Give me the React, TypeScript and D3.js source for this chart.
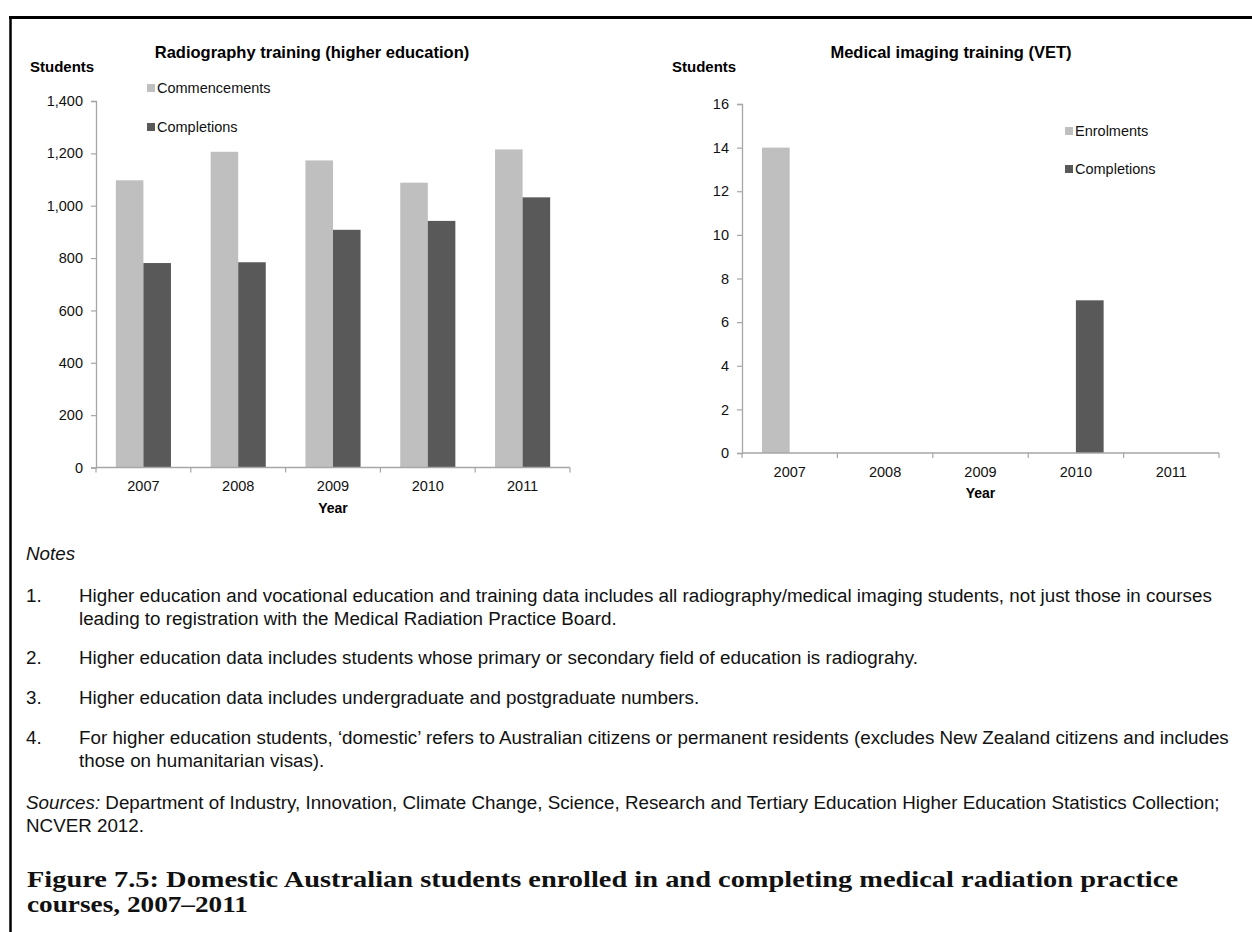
import React, { useEffect, useRef } from 'react';
import * as d3 from 'd3';

const years = ['2007', '2008', '2009', '2010', '2011'];

// Radiography training (higher education)
const heCommencements = [1097, 1206, 1173, 1088, 1215];
const heCompletions = [781, 784, 908, 942, 1032];

// Medical imaging training (VET)
const vetEnrolments = [14, 0, 0, 0, 0];
const vetCompletions = [0, 0, 0, 7, 0];

const LIGHT = '#bfbfbf';
const DARK = '#595959';
const AXIS = '#a6a6a6';
const SANS = 'Arial, "Liberation Sans", sans-serif';
const SERIF = '"Liberation Serif", "Times New Roman", serif';

interface PanelProps {
  title: string;
  titleX: number;
  studentsX: number;
  x0: number;
  x1: number;
  yTop: number;
  yBottom: number;
  yMax: number;
  yStep: number;
  series: { name: string; values: number[]; color: string }[];
  legendX: number;
  legendY: number[];
  tickFmt: (d: number) => string;
  labelY: number;
  yearY: number;
}

const Panel: React.FC<PanelProps> = (p) => {
  const ref = useRef<SVGGElement>(null);

  useEffect(() => {
    const g = d3.select(ref.current);
    g.selectAll('*').remove();

    const x = d3.scaleBand<string>().domain(years).range([p.x0, p.x1]);
    const y = d3.scaleLinear().domain([0, p.yMax]).range([p.yBottom, p.yTop]);
    const inner = d3.scaleBand<string>()
      .domain(p.series.map(s => s.name))
      .range([0, x.bandwidth()])
      .paddingOuter(0.72)
      .paddingInner(0);

    p.series.forEach(s => {
      g.append('g')
        .selectAll('rect')
        .data(s.values)
        .join('rect')
        .attr('x', (_, i) => (x(years[i]) as number) + (inner(s.name) as number))
        .attr('width', inner.bandwidth())
        .attr('y', d => y(d))
        .attr('height', d => y(0) - y(d))
        .attr('fill', s.color);
    });

    // y axis
    const ya = g.append('g')
      .attr('transform', `translate(${p.x0},0)`)
      .call(d3.axisLeft(y).tickValues(d3.range(0, p.yMax + 0.001, p.yStep)).tickSize(5).tickPadding(8).tickFormat(d => p.tickFmt(d as number)));
    ya.select('.domain').attr('stroke', AXIS).attr('stroke-width', 1.3);
    ya.selectAll('.tick line').attr('stroke', AXIS).attr('stroke-width', 1.2);
    ya.selectAll('text').attr('font-family', SANS).attr('font-size', 14.5).attr('fill', '#111');

    // x axis, ticks at band boundaries
    const xa = g.append('g').attr('transform', `translate(0,${p.yBottom})`);
    xa.append('line').attr('x1', p.x0).attr('x2', p.x1).attr('stroke', AXIS).attr('stroke-width', 1.3);
    xa.selectAll('line.tk')
      .data([...years.map(d => x(d) as number), p.x1])
      .join('line')
      .attr('class', 'tk')
      .attr('x1', d => d).attr('x2', d => d)
      .attr('y1', 0).attr('y2', 5)
      .attr('stroke', AXIS)
      .attr('stroke-width', 1.2);
    xa.selectAll('text')
      .data(years)
      .join('text')
      .attr('x', d => (x(d) as number) + x.bandwidth() / 2)
      .attr('y', p.labelY - p.yBottom)
      .attr('dy', '0.35em')
      .attr('text-anchor', 'middle')
      .attr('font-family', SANS)
      .attr('font-size', 14.5)
      .attr('fill', '#111')
      .text(d => d);

    g.append('text')
      .attr('x', (p.x0 + p.x1) / 2)
      .attr('y', p.yearY)
      .attr('dy', '0.35em')
      .attr('text-anchor', 'middle')
      .attr('font-family', SANS)
      .attr('font-weight', 'bold')
      .attr('font-size', 14)
      .text('Year');

    g.append('text')
      .attr('x', p.titleX)
      .attr('y', 52)
      .attr('dy', '0.35em')
      .attr('text-anchor', 'middle')
      .attr('font-family', SANS)
      .attr('font-weight', 'bold')
      .attr('font-size', 16.5)
      .text(p.title);

    g.append('text')
      .attr('x', p.studentsX)
      .attr('y', 67)
      .attr('dy', '0.35em')
      .attr('font-family', SANS)
      .attr('font-weight', 'bold')
      .attr('font-size', 15)
      .text('Students');

    // legend
    const lg = g.append('g');
    p.series.forEach((s, i) => {
      lg.append('rect')
        .attr('x', p.legendX)
        .attr('y', p.legendY[i] - 4)
        .attr('width', 8).attr('height', 8)
        .attr('fill', s.color);
      lg.append('text')
        .attr('x', p.legendX + 10)
        .attr('y', p.legendY[i])
        .attr('dy', '0.35em')
        .attr('font-family', SANS)
        .attr('font-size', 14.5)
        .attr('fill', '#111')
        .text(s.name);
    });
  }, [p]);

  return <g ref={ref} />;
};

const notes: { num: string; lines: string[]; y: number }[] = [
  { num: '1.', y: 595, lines: ['Higher education and vocational education and training data includes all radiography/medical imaging students, not just those in courses', 'leading to registration with the Medical Radiation Practice Board.'] },
  { num: '2.', y: 657, lines: ['Higher education data includes students whose primary or secondary field of education is radiograhy.'] },
  { num: '3.', y: 697, lines: ['Higher education data includes undergraduate and postgraduate numbers.'] },
  { num: '4.', y: 737, lines: ['For higher education students, \u2018domestic\u2019 refers to Australian citizens or permanent residents (excludes New Zealand citizens and includes', 'those on humanitarian visas).'] },
];

const App: React.FC = () => {
  const textStyle = { fontFamily: SANS, fontSize: 18.8, fill: '#111' };
  const capStyle = { fontFamily: SERIF, fontWeight: 'bold' as const, fontSize: 23, fill: '#111' };
  return (
    <svg width={1252} height={932} style={{ position: 'absolute', left: 0, top: 0, background: '#fff' }}>
      <rect x={0} y={0} width={1252} height={932} fill="#fff" />
      <line x1={9} x2={1252} y1={17.5} y2={17.5} stroke="#000" strokeWidth={3} />
      <line x1={10.5} x2={10.5} y1={16} y2={932} stroke="#000" strokeWidth={2.5} />

      <Panel
        title="Radiography training (higher education)"
        titleX={312}
        studentsX={30}
        x0={96}
        x1={570}
        yTop={101}
        yBottom={467.5}
        yMax={1400}
        yStep={200}
        series={[
          { name: 'Commencements', values: heCommencements, color: LIGHT },
          { name: 'Completions', values: heCompletions, color: DARK },
        ]}
        legendX={147}
        legendY={[88, 127]}
        tickFmt={d3.format(',')}
        labelY={486}
        yearY={508}
      />
      <Panel
        title="Medical imaging training (VET)"
        titleX={951}
        studentsX={672}
        x0={742}
        x1={1219}
        yTop={104}
        yBottom={453}
        yMax={16}
        yStep={2}
        series={[
          { name: 'Enrolments', values: vetEnrolments, color: LIGHT },
          { name: 'Completions', values: vetCompletions, color: DARK },
        ]}
        legendX={1065}
        legendY={[131, 169]}
        tickFmt={d3.format('d')}
        labelY={472}
        yearY={493}
      />

      <text x={26} y={553} dy="0.35em" style={{ ...textStyle, fontStyle: 'italic' }}>Notes</text>
      {notes.map(n => (
        <g key={n.num}>
          <text x={26} y={n.y} dy="0.35em" style={textStyle}>{n.num}</text>
          {n.lines.map((l, i) => (
            <text key={i} x={79} y={n.y + i * 23} dy="0.35em" style={textStyle}>{l}</text>
          ))}
        </g>
      ))}
      <text x={26} y={802} dy="0.35em" style={textStyle}>
        <tspan fontStyle="italic">Sources:</tspan> Department of Industry, Innovation, Climate Change, Science, Research and Tertiary Education Higher Education Statistics Collection;
      </text>
      <text x={26} y={825} dy="0.35em" style={textStyle}>NCVER 2012.</text>

      <text x={27} y={879} dy="0.35em" textLength={1151} lengthAdjust="spacingAndGlyphs" style={capStyle}>
        Figure 7.5: Domestic Australian students enrolled in and completing medical radiation practice
      </text>
      <text x={27} y={904} dy="0.35em" textLength={221} lengthAdjust="spacingAndGlyphs" style={capStyle}>
        courses, 2007–2011
      </text>
    </svg>
  );
};

export default App;
